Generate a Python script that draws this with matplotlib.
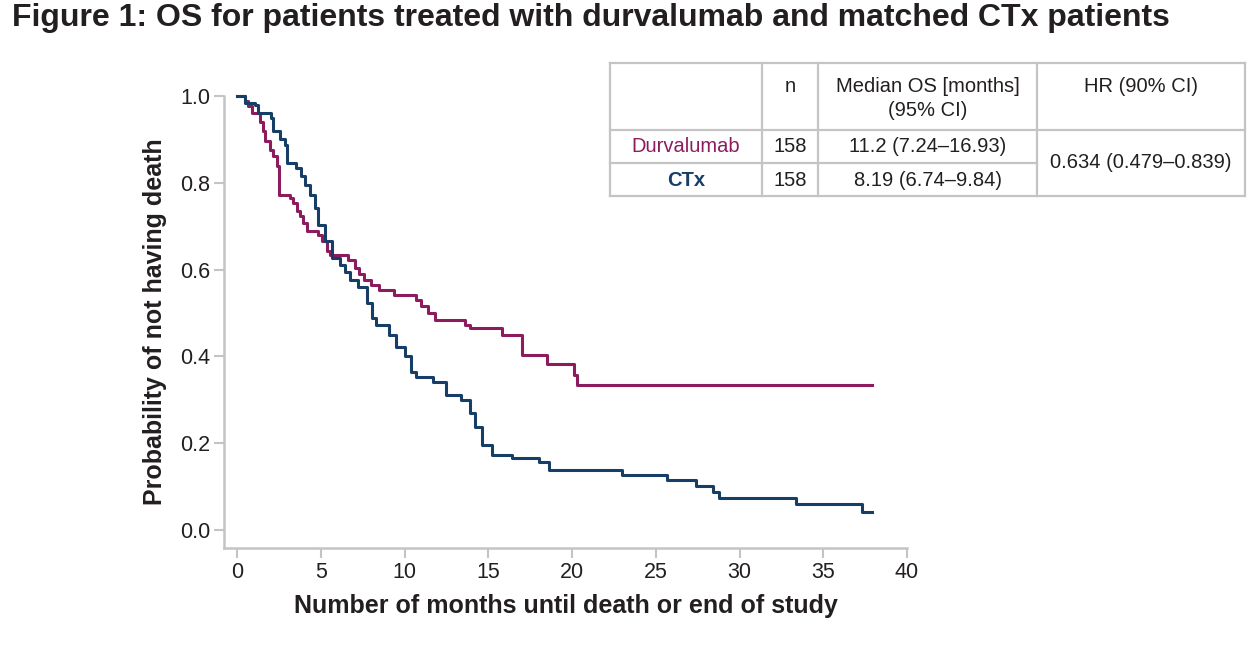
import matplotlib
matplotlib.use("Agg")
import matplotlib.pyplot as plt

plt.rcParams['font.family'] = ['Liberation Sans', 'DejaVu Sans']

# Kaplan-Meier step data (months, survival after event)
durva_t = [0, 0.5, 0.66, 0.9, 1.37, 1.55, 1.67, 1.97, 2.15, 2.39, 2.5, 3.16, 3.36, 3.55,
           3.76, 3.96, 4.16, 4.84, 5.07, 5.37, 5.55, 6.6, 7.05, 7.3, 7.6, 8.0, 8.5, 9.4,
           10.7, 11.0, 11.4, 11.8, 13.6, 13.9, 15.8, 16.0, 17.0, 18.5, 20.1, 20.3, 37.9]
durva_s = [1.0, 0.988, 0.977, 0.96, 0.94, 0.92, 0.897, 0.876, 0.862, 0.839, 0.772, 0.765,
           0.753, 0.735, 0.723, 0.707, 0.689, 0.680, 0.666, 0.643, 0.634, 0.622, 0.603,
           0.590, 0.576, 0.565, 0.553, 0.541, 0.53, 0.515, 0.50, 0.484, 0.472, 0.465,
           0.449, 0.449, 0.403, 0.382, 0.357, 0.334, 0.334]

ctx_t = [0, 0.48, 1.1, 1.25, 2.0, 2.15, 2.55, 2.85, 3.0, 3.5, 3.8, 4.06, 4.36, 4.66, 4.84,
         5.25, 5.67, 6.15, 6.45, 6.75, 7.2, 7.75, 8.05, 8.3, 9.1, 9.5, 10.0, 10.4, 10.7,
         11.7, 12.5, 13.4, 13.9, 14.2, 14.6, 15.2, 16.4, 18.0, 18.6, 23.0, 25.7, 27.4,
         28.4, 28.8, 33.4, 37.3, 37.9]
ctx_s = [1.0, 0.984, 0.98, 0.96, 0.95, 0.92, 0.90, 0.887, 0.846, 0.834, 0.816, 0.795,
         0.772, 0.742, 0.703, 0.666, 0.627, 0.610, 0.595, 0.576, 0.56, 0.523, 0.488,
         0.472, 0.449, 0.422, 0.40, 0.364, 0.353, 0.341, 0.311, 0.30, 0.27, 0.237, 0.196,
         0.173, 0.166, 0.157, 0.138, 0.127, 0.115, 0.101, 0.088, 0.074, 0.06, 0.041, 0.041]

# summary table
groups = ['Durvalumab', 'CTx']
n_pat = ['158', '158']
median_os = ['11.2 (7.24–16.93)', '8.19 (6.74–9.84)']
hr_text = '0.634 (0.479–0.839)'

DURVA = '#8c1c5e'
CTX = '#173e66'
GREY = '#c4c4c4'
TXT = '#231f20'

fig = plt.figure(figsize=(12.52, 6.58), dpi=100)
ax = fig.add_axes([224 / 1252, 110 / 658, 683 / 1252, 452 / 658])

ax.step(durva_t, durva_s, where='post', color=DURVA, lw=2.2, clip_on=False, zorder=3)
ax.step(ctx_t, ctx_s, where='post', color=CTX, lw=2.2, clip_on=False, zorder=4)

ax.set_xlim(-0.78, 40)
ax.set_ylim(-0.042, 1.0)
ax.set_xticks(range(0, 41, 5))
ax.set_yticks([0.0, 0.2, 0.4, 0.6, 0.8, 1.0])
ax.set_yticklabels(['0.0', '0.2', '0.4', '0.6', '0.8', '1.0'])
for s in ['top', 'right']:
    ax.spines[s].set_visible(False)
for s in ['left', 'bottom']:
    ax.spines[s].set_color(GREY)
    ax.spines[s].set_linewidth(1.8)
ax.tick_params(colors=GREY, labelcolor=TXT, labelsize=15.5, length=7, width=1.5, pad=3)
ax.set_xlabel('Number of months until death or end of study', fontsize=18,
              fontweight='bold', color=TXT, labelpad=8)
ax.set_ylabel('Probability of not having death', fontsize=18,
              fontweight='bold', color=TXT, labelpad=9)

fig.text(12 / 1252, 1 - 18 / 658, 'Figure 1: OS for patients treated with durvalumab and matched CTx patients',
         fontsize=23, fontweight='bold', color=TXT, va='center', ha='left')

# table overlay in pixel coordinates
tab = fig.add_axes([0, 0, 1, 1])
tab.set_xlim(0, 1252)
tab.set_ylim(658, 0)
tab.axis('off')
tab.patch.set_alpha(0)

cols = [610, 762, 818, 1037, 1245]
rows = [63, 130, 163, 196]
lk = dict(color=GREY, lw=1.6)
tab.plot([cols[0], cols[-1]], [rows[0], rows[0]], **lk)
tab.plot([cols[0], cols[-1]], [rows[1], rows[1]], **lk)
tab.plot([cols[0], cols[3]], [rows[2], rows[2]], **lk)
tab.plot([cols[0], cols[-1]], [rows[3], rows[3]], **lk)
for c in cols:
    tab.plot([c, c], [rows[0], rows[3]], **lk)

fs = 14.5
cx = [(cols[i] + cols[i + 1]) / 2 for i in range(4)]
tab.text(cx[1], 87, 'n', ha='center', va='center', fontsize=fs, color=TXT)
tab.text(cx[2], 87, 'Median OS [months]', ha='center', va='center', fontsize=fs, color=TXT)
tab.text(cx[2], 110, '(95% CI)', ha='center', va='center', fontsize=fs, color=TXT)
tab.text(cx[3], 87, 'HR (90% CI)', ha='center', va='center', fontsize=fs, color=TXT)
row_y = [147, 180]
row_col = [DURVA, CTX]
for g, n, m, y, c in zip(groups, n_pat, median_os, row_y, row_col):
    tab.text(cx[0], y, g, ha='center', va='center', fontsize=fs, color=c,
             fontweight='bold' if g == 'CTx' else 'normal')
    tab.text(cx[1], y, n, ha='center', va='center', fontsize=fs, color=TXT)
    tab.text(cx[2], y, m, ha='center', va='center', fontsize=fs, color=TXT)
tab.text(cx[3], 163, hr_text, ha='center', va='center', fontsize=fs, color=TXT)

fig.savefig('out.png', dpi=100, facecolor='white')
